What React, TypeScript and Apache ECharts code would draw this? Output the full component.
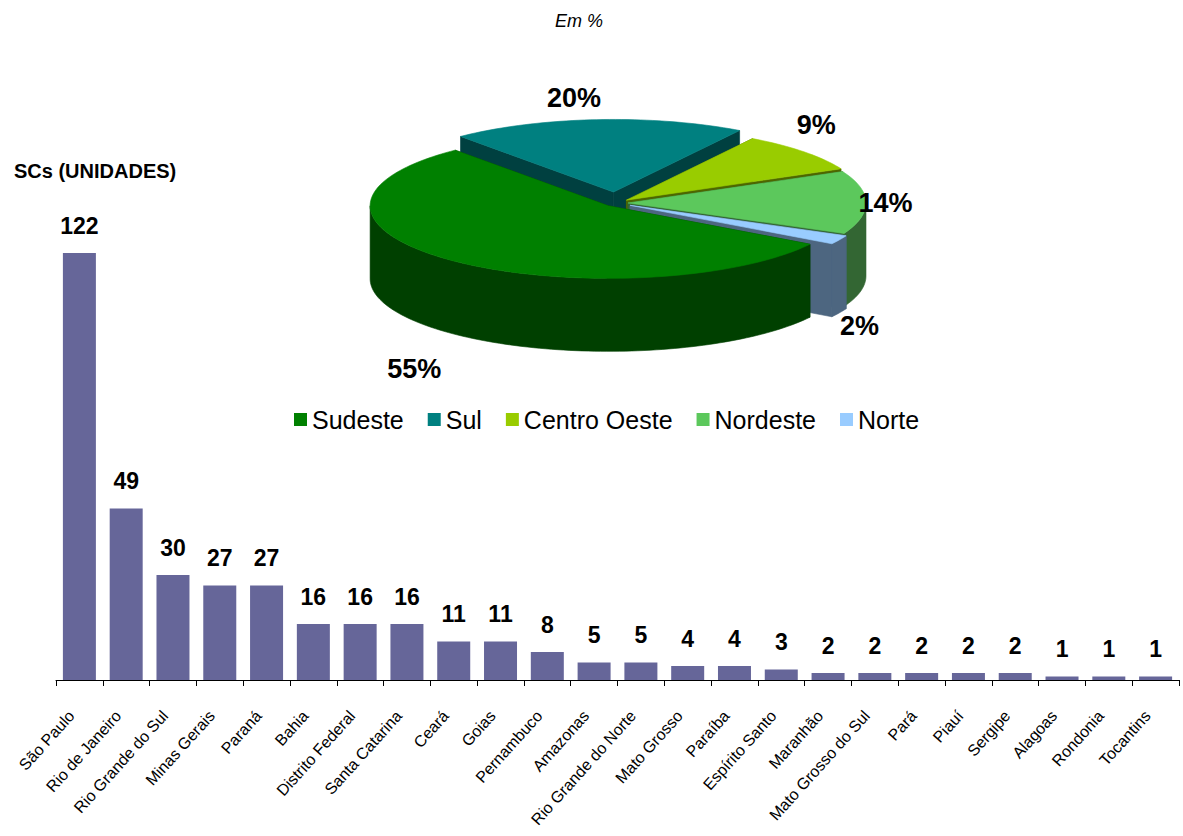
import React, { useEffect, useRef } from "react";
import * as echarts from "echarts";

// ---- Data ----
const states = [
  "São Paulo", "Rio de Janeiro", "Rio Grande do Sul", "Minas Gerais", "Paraná",
  "Bahia", "Distrito Federal", "Santa Catarina", "Ceará", "Goias", "Pernambuco",
  "Amazonas", "Rio Grande do Norte", "Mato Grosso", "Paraíba", "Espírito Santo",
  "Maranhão", "Mato Grosso do Sul", "Pará", "Piauí", "Sergipe", "Alagoas",
  "Rondonia", "Tocantins",
];
const scUnits = [122, 49, 30, 27, 27, 16, 16, 16, 11, 11, 8, 5, 5, 4, 4, 3, 2, 2, 2, 2, 2, 1, 1, 1];

const regions = ["Sudeste", "Sul", "Centro Oeste", "Nordeste", "Norte"];
const regionShare = [55, 20, 9, 14, 2];

// ---- Styles ----
const topColors = ["#008000", "#008080", "#99CC00", "#5CC85C", "#99CCFF"];
const sideColors = ["#004000", "#004040", "#4D6600", "#336633", "#4D6680"];
const explode = [12, 36, 14, 12, 16];
const labelNudge = [[-19, 16], [-21, 4], [-9, -10], [-9, 1], [-5, 1]];
const PIE = { cx: 616, cy: 203, rx: 238, k: 0.305, depth: 73, start: 32 };
const SANS = "'Liberation Sans', Arial, sans-serif";

const total = regionShare.reduce((a, b) => a + b, 0);
const rad = (d: number) => (d * Math.PI) / 180;

function sliceAngles(i: number, value: number) {
  let acc = 0;
  for (let j = 0; j < i; j++) acc += regionShare[j];
  const a1 = PIE.start + (acc / total) * 360;
  const a2 = a1 + (value / total) * 360;
  return [a1, a2];
}

function makeRenderItem(i: number) {
  return (params: any, api: any) => {
    const value = api.value(0);
    const [a1, a2] = sliceAngles(i, value);
    const m = (a1 + a2) / 2;
    const e = explode[i];
    const ox = e * Math.cos(rad(m));
    const oy = PIE.k * e * Math.sin(rad(m));
    const { cx, cy, rx, k, depth } = PIE;
    const P = (a: number, r: number, down: number) => [
      cx + ox + r * Math.cos(rad(a)),
      cy + oy + k * r * Math.sin(rad(a)) + down,
    ];
    const arc = (s: number, en: number, down: number) => {
      const n = Math.max(2, Math.ceil((en - s) / 1.5));
      const pts: number[][] = [];
      for (let t = 0; t <= n; t++) pts.push(P(s + ((en - s) * t) / n, rx, down));
      return pts;
    };
    const side = { fill: sideColors[i], stroke: sideColors[i], lineWidth: 0.6 };
    const children: any[] = [];
    [a1, a2].forEach((a) => {
      children.push({
        type: "polygon",
        shape: { points: [P(a, 0, 0), P(a, rx, 0), P(a, rx, depth), P(a, 0, depth)] },
        style: side,
      });
    });
    [-360, 0, 360, 720].forEach((base) => {
      const s = Math.max(a1, base);
      const en = Math.min(a2, base + 180);
      if (s < en) {
        const top = arc(s, en, 0);
        const bottom = arc(s, en, depth).reverse();
        children.push({ type: "polygon", shape: { points: top.concat(bottom) }, style: side });
      }
    });
    children.push({
      type: "polygon",
      shape: { points: [P(a1, 0, 0)].concat(arc(a1, a2, 0)) },
      style: { fill: topColors[i], stroke: topColors[i], lineWidth: 0.6 },
    });
    const sm = Math.sin(rad(m));
    const lx = cx + ox + 1.12 * rx * Math.cos(rad(m)) + labelNudge[i][0];
    const ly = cy + oy + 1.35 * rx * k * sm + (sm > 0.3 ? depth : 0) + labelNudge[i][1];
    children.push({
      type: "text",
      x: lx,
      y: ly,
      style: {
        text: Math.round((value / total) * 100) + "%",
        fill: "#000",
        fontSize: 27,
        fontWeight: "bold",
        fontFamily: SANS,
        align: "center",
        verticalAlign: "middle",
      },
    });
    return { type: "group", children };
  };
}

export default function App() {
  const ref = useRef<HTMLDivElement>(null);
  useEffect(() => {
    document.body.style.margin = "0";
    const chart = echarts.init(ref.current!, null, { renderer: "svg" });
    const mids = regions.map((_, i) => {
      const [a1, a2] = sliceAngles(i, regionShare[i]);
      return Math.sin(rad((a1 + a2) / 2));
    });
    const order = mids.map((v, i) => [v, i]).sort((a, b) => a[0] - b[0]).map((x) => x[1]);
    const pieSeries = regions.map((name, i) => ({
      type: "custom",
      name,
      coordinateSystem: "none",
      z: 10 + order.indexOf(i),
      itemStyle: { color: topColors[i] },
      data: [[regionShare[i]]],
      renderItem: makeRenderItem(i),
      silent: true,
    }));
    chart.setOption({
      animation: false,
      backgroundColor: "#fff",
      grid: { left: 56, right: 4, top: 190, bottom: 156, containLabel: false, outerBoundsMode: "none" },
      xAxis: {
        type: "category",
        data: states,
        axisLine: { lineStyle: { color: "#000", width: 1 } },
        axisTick: { show: true, length: 6, lineStyle: { color: "#000" } },
        axisLabel: {
          rotate: 48,
          interval: 0,
          fontSize: 16,
          color: "#000",
          fontFamily: SANS,
          margin: 24,
          padding: [0, 12, 0, 0],
        },
      },
      yAxis: { type: "value", min: 0, max: 140, show: false, splitLine: { show: false } },
      legend: {
        data: regions.map((name) => ({ name, icon: "rect" })),
        left: 289,
        top: 402,
        itemWidth: 13,
        itemHeight: 13,
        itemGap: 24,
        textStyle: { fontSize: 25, color: "#000", fontFamily: SANS },
        selectedMode: false,
      },
      graphic: [
        {
          type: "text",
          left: 555,
          top: 12,
          style: { text: "Em %", fontSize: 18, fontStyle: "italic", fill: "#000", fontFamily: SANS },
        },
        {
          type: "text",
          left: 14,
          top: 161,
          style: { text: "SCs (UNIDADES)", fontSize: 20, fontWeight: "bold", fill: "#000", fontFamily: SANS },
        },
      ],
      series: [
        {
          type: "bar",
          name: "SCs",
          data: scUnits,
          barWidth: 33,
          itemStyle: { color: "#666699" },
          label: {
            show: true,
            position: "top",
            distance: 16,
            fontSize: 23,
            fontWeight: "bold",
            color: "#000",
            fontFamily: SANS,
          },
          silent: true,
        },
        ...pieSeries,
      ],
    });
    return () => chart.dispose();
  }, []);
  return <div ref={ref} style={{ position: "fixed", left: 0, top: 0, width: 1183, height: 836 }} />;
}
